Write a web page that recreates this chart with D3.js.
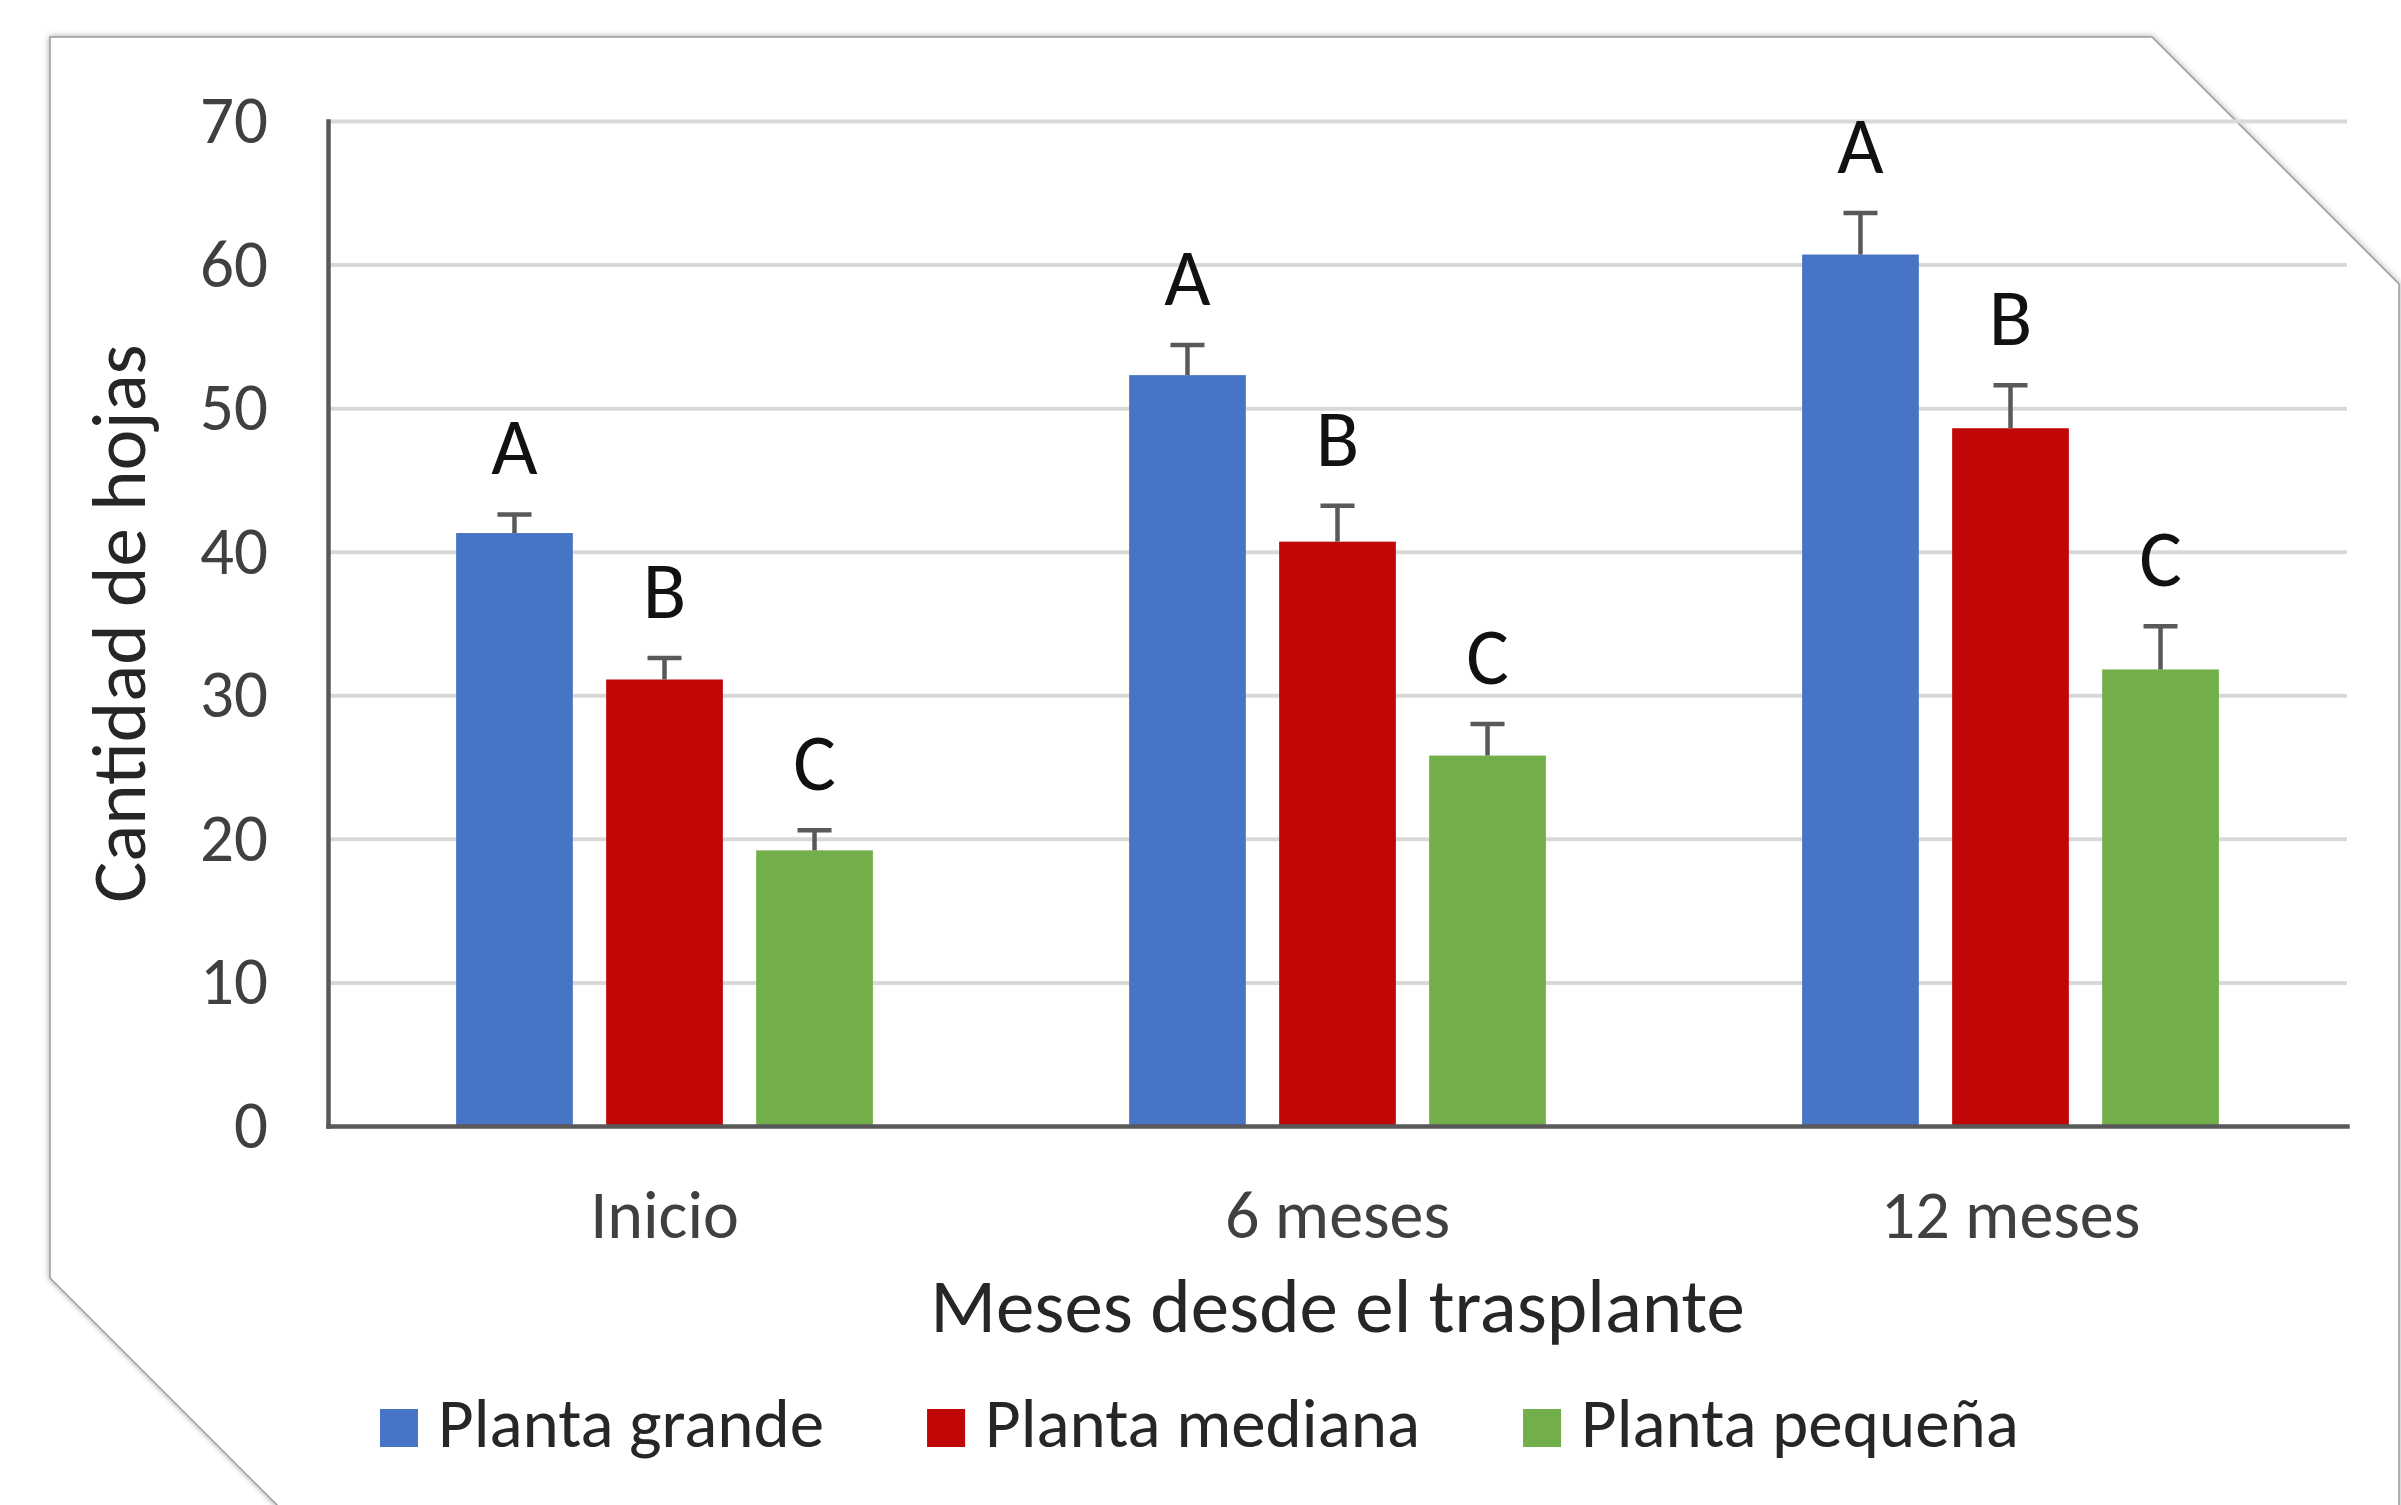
<!DOCTYPE html>
<html>
<head>
<meta charset="utf-8">
<script src="https://cdn.jsdelivr.net/npm/d3@7"></script>
<style>
  body { margin: 0; background: #fff; }
  text { font-family: Carlito, Lato, sans-serif; }
</style>
</head>
<body>
<div id="chart"></div>
<script>
// categories and series
const categories = ["Inicio", "6 meses", "12 meses"];
const seriesNames = ["Planta grande", "Planta mediana", "Planta pequeña"];
const seriesColors = ["#4874c6", "#c00606", "#72ae4a"];

// mean number of leaves, per series, per category
const grandeValues = [41.3, 52.3, 60.7];
const medianaValues = [31.1, 40.7, 48.6];
const pequenaValues = [19.2, 25.8, 31.8];

// upper error bar size
const grandeErrors = [1.3, 2.1, 2.9];
const medianaErrors = [1.5, 2.5, 3.0];
const pequenaErrors = [1.4, 2.2, 3.0];

// significance letters per series
const seriesLetters = ["A", "B", "C"];

const yTicks = [0, 10, 20, 30, 40, 50, 60, 70];

const W = 2401, H = 1505;
const plot = {left: 328, right: 2347, top: 121, bottom: 1126};

const svg = d3.select("#chart")
    .append("svg")
    .attr("width", W)
    .attr("height", H);

const defs = svg.append("defs");

// soft shadow for the frame
const shadow = defs.append("filter")
    .attr("id", "shadow")
    .attr("x", "-5%").attr("y", "-5%")
    .attr("width", "110%").attr("height", "110%");
shadow.append("feDropShadow")
    .attr("dx", 0).attr("dy", 0)
    .attr("stdDeviation", 3)
    .attr("flood-color", "#000")
    .attr("flood-opacity", 0.35);

// frame with two cut corners
svg.append("polygon")
    .attr("points", "50,37 2152,37 2399,284 2399,1600 372,1600 50,1278")
    .attr("fill", "#fff")
    .attr("stroke", "#9a9a9a")
    .attr("stroke-width", 1.5)
    .attr("filter", "url(#shadow)");

// the content is cut a little inside the diagonal edge
defs.append("clipPath")
    .attr("id", "plotClip")
    .append("polygon")
    .attr("points", "0,0 2128,0 2128,37 " + (2128 + 1400) + "," + (37 + 1400) + " 0,1505");

// scales
const x0 = d3.scaleBand()
    .domain(categories)
    .range([plot.left, plot.right])
    .paddingInner(0)
    .paddingOuter(0);

const x1 = d3.scaleBand()
    .domain(seriesNames)
    .range([0, x0.bandwidth()])
    .paddingInner(0.222)
    .paddingOuter(0.854);

const y = d3.scaleLinear()
    .domain([0, 70])
    .range([plot.bottom, plot.top]);

// gridlines
svg.append("g")
    .attr("clip-path", "url(#plotClip)")
    .attr("transform", "translate(" + plot.left + ",0)")
    .call(d3.axisLeft(y).tickValues(yTicks.slice(1)).tickSize(-(plot.right - plot.left)).tickFormat(""))
    .call(g => g.select(".domain").remove())
    .call(g => g.selectAll("line").attr("stroke", "#d9d9d9").attr("stroke-width", 4));

// build the rows
const allValues = [grandeValues, medianaValues, pequenaValues];
const allErrors = [grandeErrors, medianaErrors, pequenaErrors];
const rows = [];
categories.forEach((c, i) => {
    seriesNames.forEach((s, j) => {
        rows.push({cat: c, series: s, value: allValues[j][i], err: allErrors[j][i],
            color: seriesColors[j], letter: seriesLetters[j]});
    });
});

const groups = svg.append("g");

// bars
groups.selectAll("rect.bar")
    .data(rows)
    .enter()
    .append("rect")
    .attr("class", "bar")
    .attr("x", d => x0(d.cat) + x1(d.series))
    .attr("y", d => y(d.value))
    .attr("width", x1.bandwidth())
    .attr("height", d => y(0) - y(d.value))
    .attr("fill", d => d.color);

// error bars (plus side only)
const capHalf = 17;
const errG = groups.selectAll("g.err")
    .data(rows)
    .enter()
    .append("g")
    .attr("class", "err")
    .attr("stroke", "#595959")
    .attr("stroke-width", 4.5);
errG.append("line")
    .attr("x1", d => x0(d.cat) + x1(d.series) + x1.bandwidth() / 2)
    .attr("x2", d => x0(d.cat) + x1(d.series) + x1.bandwidth() / 2)
    .attr("y1", d => y(d.value))
    .attr("y2", d => y(d.value + d.err));
errG.append("line")
    .attr("x1", d => x0(d.cat) + x1(d.series) + x1.bandwidth() / 2 - capHalf)
    .attr("x2", d => x0(d.cat) + x1(d.series) + x1.bandwidth() / 2 + capHalf)
    .attr("y1", d => y(d.value + d.err))
    .attr("y2", d => y(d.value + d.err));

// letters above the bars
groups.selectAll("text.letter")
    .data(rows)
    .enter()
    .append("text")
    .attr("class", "letter")
    .attr("x", d => x0(d.cat) + x1(d.series) + x1.bandwidth() / 2)
    .attr("y", d => y(d.value + d.err) - 40)
    .attr("text-anchor", "middle")
    .attr("font-size", 80)
    .attr("fill", "#111")
    .text(d => d.letter);

// y axis
svg.append("g")
    .attr("transform", "translate(" + plot.left + ",0)")
    .call(d3.axisLeft(y).tickValues(yTicks).tickSize(0).tickSizeOuter(0).tickPadding(60))
    .call(g => g.select(".domain").attr("stroke", "#595959").attr("stroke-width", 4.5).attr("stroke-linecap", "square"))
    .call(g => g.selectAll("text").attr("font-size", 67).attr("fill", "#404040").attr("font-family", null));

// x axis
svg.append("g")
    .attr("transform", "translate(0," + plot.bottom + ")")
    .call(d3.axisBottom(x0).tickSize(0).tickSizeOuter(0).tickPadding(64))
    .call(g => g.select(".domain").attr("stroke", "#595959").attr("stroke-width", 4.5).attr("stroke-linecap", "square"))
    .call(g => g.selectAll("text").attr("font-size", 68).attr("fill", "#404040").attr("font-family", null));

// axis titles
svg.append("text")
    .attr("x", (plot.left + plot.right) / 2)
    .attr("y", 1332)
    .attr("text-anchor", "middle")
    .attr("font-size", 77)
    .attr("fill", "#262626")
    .text("Meses desde el trasplante");

svg.append("text")
    .attr("transform", "translate(145," + ((plot.top + plot.bottom) / 2) + ")rotate(-90)")
    .attr("text-anchor", "middle")
    .attr("font-size", 77)
    .attr("fill", "#262626")
    .text("Cantidad de hojas");

// legend
const legend = svg.append("g")
    .attr("transform", "translate(380,1409)");
let lx = 0;
seriesNames.forEach((s, i) => {
    const item = legend.append("g").attr("transform", "translate(" + lx + ",0)");
    item.append("rect")
        .attr("width", 38)
        .attr("height", 38)
        .attr("fill", seriesColors[i]);
    const t = item.append("text")
        .attr("x", 58)
        .attr("y", 38)
        .attr("font-size", 69)
        .attr("fill", "#262626")
        .text(s);
    lx += 58 + t.node().getComputedTextLength() + 103;
});
</script>
</body>
</html>
